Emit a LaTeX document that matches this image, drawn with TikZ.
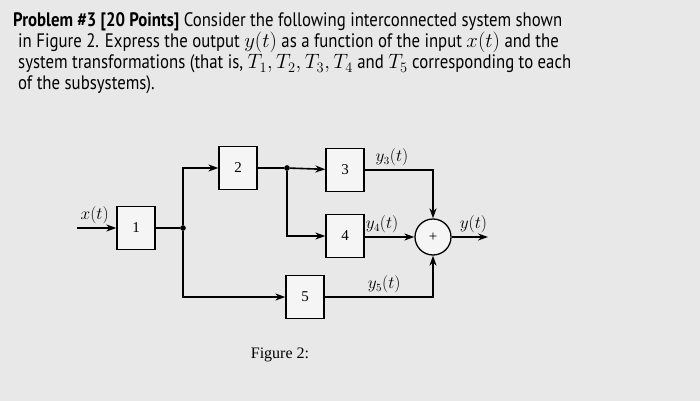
\documentclass[tikz,border=0pt]{standalone}
\usepackage{fontspec}
\setmainfont{Liberation Serif}
\newfontfamily\hdr[FakeStretch=0.86]{PT Sans}
\usetikzlibrary{arrows.meta}
\begin{document}
\begin{tikzpicture}[x=1pt,y=-1pt,
  blk/.style={draw,line width=1.3pt,fill=white!92!gray,minimum width=38pt,minimum height=43pt,font=\fontsize{15}{15}\selectfont},
  ln/.style={line width=1.6pt,-{Stealth[length=10pt,width=7pt]}},
  pl/.style={line width=1.6pt},
  dot/.style={circle,fill,inner sep=2pt},
  lab/.style={font=\fontsize{16}{16}\selectfont,anchor=south}]
\fill[gray!18] (0,0) rectangle (700,401);
\useasboundingbox (0,0) rectangle (700,401);
\begin{scope}[every node/.style={anchor=base west,inner sep=0,font=\hdr\fontsize{19.5}{19.5}\selectfont}]
\node at (13,27) {\textbf{Problem \#3 [20 Points]} Consider the following interconnected system shown};
\node at (18,48) {in Figure 2. Express the output $y(t)$ as a function of the input $x(t)$ and the};
\node at (18,69) {system transformations (that is, $T_1, T_2, T_3, T_4$ and $T_5$ corresponding to each};
\node at (18,90) {of the subsystems).};
\end{scope}
\node[blk] (b1) at (136,228) {1};
\node[blk] (b2) at (238,168) {2};
\node[blk] (b3) at (345,170) {3};
\node[blk] (b4) at (345,236) {4};
\node[blk] (b5) at (305,297) {5};
\node[draw,line width=1.3pt,circle,minimum size=36pt,inner sep=0,fill=white!92!gray,font=\fontsize{15}{15}\selectfont] (s) at (433,237) {+};
\node[dot] (j1) at (183,228) {};
\node[dot] (j2) at (287,168) {};
\coordinate (in) at (77,228);
\coordinate (out) at (488,237);
\draw[ln] (in) -- node[lab,pos=0.45] {$x(t)$} (b1);
\draw[pl] (b1) -- (j1);
\draw[ln] (j1) |- (b2);
\draw[ln] (j1) |- (b5);
\draw[pl] (b2) -- (j2);
\draw[ln] (j2) -- (b3);
\draw[ln] (j2) |- (b4);
\draw[ln] (b3.east) -- node[lab,pos=0.4] {$y_3(t)$} (s.north |- b3.east) -- (s.north);
\draw[ln] (b4.east |- s) -- node[lab,pos=0.35] {$y_4(t)$} (s.west);
\draw[ln] (b5.east) -- node[lab,pos=0.55] {$y_5(t)$} (s.south |- b5.east) -- (s.south);
\draw[ln] (s) -- node[lab,pos=0.6] {$y(t)$} (out);
\node[font=\fontsize{16}{16}\selectfont] (cap) at (280,355) {Figure 2:};
\end{tikzpicture}
\end{document}
